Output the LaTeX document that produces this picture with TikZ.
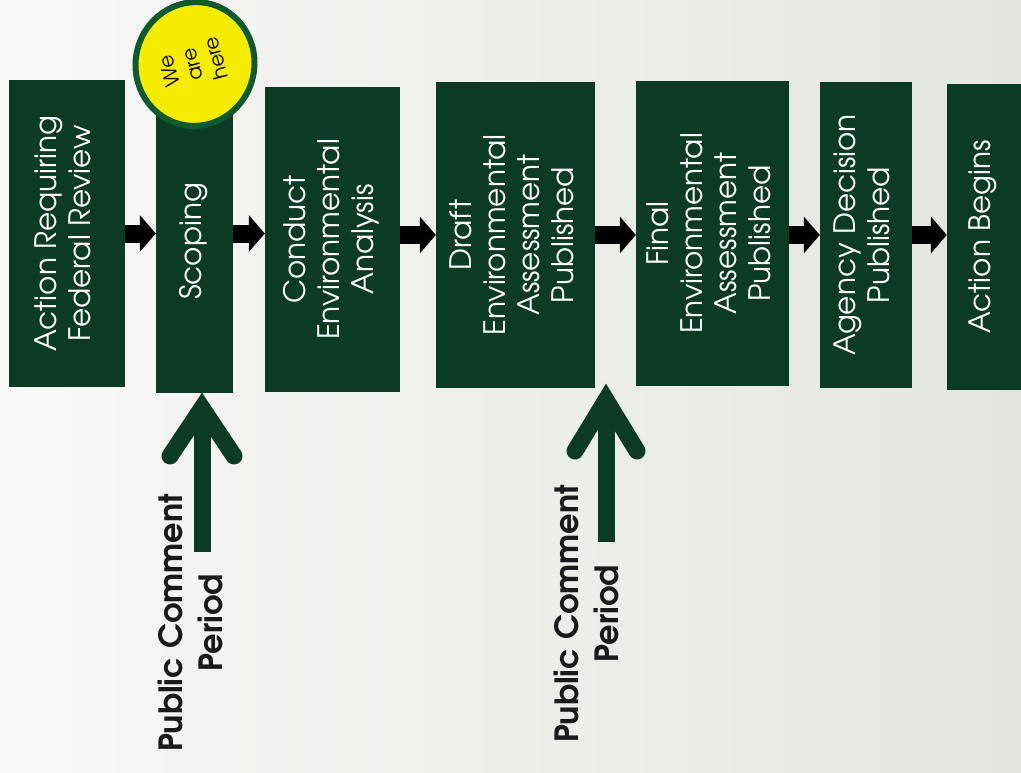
\documentclass[tikz,border=0pt]{standalone}
\usepackage{fontspec}
\setmainfont{TeX Gyre Adventor}
\usetikzlibrary{arrows.meta,shapes.geometric,calc}
\definecolor{boxgreen}{HTML}{0B3A25}
\definecolor{ringgreen}{HTML}{0E5A2C}
\definecolor{sunyellow}{HTML}{F6EC00}
\definecolor{bgA}{HTML}{F8F8F6}
\definecolor{bgB}{HTML}{E2E6DF}
\newcommand{\vlines}[2][90]{\rotatebox{#1}{\begin{tabular}{@{}c@{}}#2\end{tabular}}}
\begin{document}
\begin{tikzpicture}[x=1pt,y=1pt,
  stepbox/.style={fill=boxgreen, inner sep=0pt, text=white, font=\fontsize{29.5}{34}\selectfont},
  blk/.style={line width=18pt, -{Triangle[length=16pt,width=36pt]}, black},
  gline/.style={draw=boxgreen, line width=17pt},
  chev/.style={draw=boxgreen, line width=17pt, line cap=round, line join=miter},
  pctext/.style={font=\bfseries\fontsize{32}{40}\selectfont, text=black!90}]
\useasboundingbox (0,0) rectangle (1021,-772);
\shade[left color=bgA, right color=bgB] (0,0) rectangle (1021,-772);

\node[stepbox, minimum width=116pt, minimum height=307pt] (b1) at (67,-233.5) {\vlines{Action Requiring\\Federal Review}};
\node[stepbox, minimum width=77pt, minimum height=303pt] (b2) at (194.5,-241.5) {\vlines{Scoping}};
\node[stepbox, minimum width=135pt, minimum height=305pt] (b3) at (332.5,-239.5) {\vlines{Conduct\\Environmental\\Analysis}};
\node[stepbox, minimum width=159pt, minimum height=306pt] (b4) at (515.5,-235) {\vlines{Draft\\Environmental\\Assessment\\Published}};
\node[stepbox, minimum width=153pt, minimum height=305pt] (b5) at (712.5,-233.5) {\vlines{Final\\Environmental\\Assessment\\Published}};
\node[stepbox, minimum width=92pt, minimum height=306pt] (b6) at (866,-235) {\vlines{Agency Decision\\Published}};
\node[stepbox, minimum width=74pt, minimum height=306pt] (b7) at (984,-237) {\vlines{Action Begins}};

\draw[blk] (b1.east) -- (b1.east -| b2.west);
\draw[blk] (b2.east |- b1.east) -- (b1.east -| b3.west);
\draw[blk] (b3.east |- b4.east) -- (b4.west);
\draw[blk] (b4.east) -- (b4.east -| b5.west);
\draw[blk] (b5.east |- b6.east) -- (b6.west);
\draw[blk] (b6.east) -- (b6.east -| b7.west);

\node[ellipse, draw=ringgreen, line width=6pt, fill=sunyellow, minimum width=110pt, minimum height=124pt, rotate=-12, inner sep=0pt] (here) at (195,-64) {\fontsize{20}{24}\selectfont\vlines[117]{We\\are\\here}};

% first public comment arrow
\coordinate (s1) at (202,-552);
\coordinate (v1) at (202,-408);
\coordinate (l1) at (170,-456);
\coordinate (r1) at (234,-456);
\draw[gline] (s1) -- ($(v1)+(0,-8)$);
\draw[chev] (l1) -- (v1) -- (r1);
\node[pctext] (pc1) at (194,-623) {\vlines{Public Comment\\Period}};

% second public comment arrow
\coordinate (s2) at (606,-542);
\coordinate (v2) at (606,-400);
\coordinate (l2) at (575,-451);
\coordinate (r2) at (637,-451);
\draw[gline] (s2) -- ($(v2)+(0,-8)$);
\draw[chev] (l2) -- (v2) -- (r2);
\node[pctext] (pc2) at (590,-614) {\vlines{Public Comment\\Period}};
\end{tikzpicture}
\end{document}
